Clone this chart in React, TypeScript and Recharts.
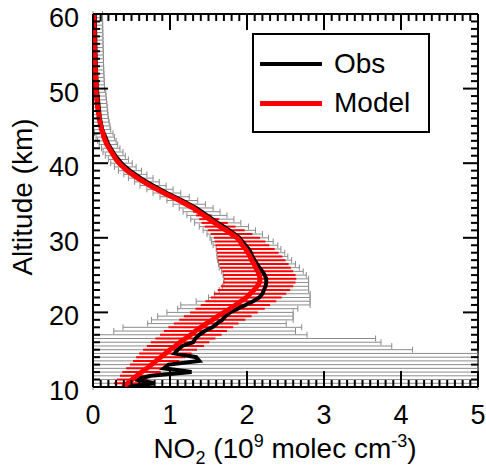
import React from "react"
import { ScatterChart, Scatter, XAxis, YAxis, ErrorBar, ReferenceLine } from "recharts"

// altitude grid (km)
const ALTITUDE = [
  10, 10.5, 11, 11.5, 12, 12.5, 13, 13.5, 14, 14.5,
  15, 15.5, 16, 16.5, 17, 17.5, 18, 18.5, 19, 19.5,
  20, 20.5, 21, 21.5, 22, 22.5, 23, 23.5, 24, 24.5,
  25, 25.5, 26, 26.5, 27, 27.5, 28, 28.5, 29, 29.5,
  30, 30.5, 31, 31.5, 32, 32.5, 33, 33.5, 34, 34.5,
  35, 35.5, 36, 36.5, 37, 37.5, 38, 38.5, 39, 39.5,
  40, 40.5, 41, 41.5, 42, 42.5, 43, 43.5, 44, 44.5,
  45, 45.5, 46, 46.5, 47, 47.5, 48, 48.5, 49, 49.5,
  50, 50.5, 51, 51.5, 52, 52.5, 53, 53.5, 54, 54.5,
  55, 55.5, 56, 56.5, 57, 57.5, 58, 58.5, 59, 59.5,
  60,
]

// NO2 (1e9 molec cm-3)
const OBS = [
  0.45, 0.8, 0.55, 0.75, 1.28, 0.92, 0.98, 1.38, 1.34, 1.06,
  1.1, 1.16, 1.3, 1.33, 1.38, 1.45, 1.55, 1.61, 1.68, 1.72,
  1.78, 1.88, 1.98, 2.08, 2.16, 2.2, 2.22, 2.24, 2.25, 2.25,
  2.23, 2.2, 2.16, 2.13, 2.1, 2.07, 2.05, 2.02, 1.98, 1.94,
  1.9, 1.84, 1.77, 1.7, 1.62, 1.55, 1.48, 1.41, 1.34, 1.25,
  1.16, 1.06, 0.96, 0.87, 0.78, 0.7, 0.62, 0.55, 0.48, 0.42,
  0.37, 0.33, 0.29, 0.26, 0.23, 0.2, 0.18, 0.16, 0.14, 0.12,
  0.11, 0.1, 0.09, 0.085, 0.08, 0.075, 0.07, 0.065, 0.06, 0.055,
  0.05, 0.048, 0.046, 0.044, 0.042, 0.04, 0.038, 0.036, 0.035, 0.034,
  0.033, 0.032, 0.031, 0.03, 0.029, 0.028, 0.027, 0.026, 0.025, 0.024,
  0.024,
]

const OBS_ERR = [
  6, 6, 6, 6, 6, 6, 6, 6, 6, 6,
  3.05, 2.72, 2.44, 2.34, 1.4, 1.18, 1.16, 0.9, 0.92, 0.88,
  0.82, 0.78, 0.84, 0.74, 0.66, 0.62, 0.58, 0.56, 0.55, 0.55,
  0.54, 0.53, 0.52, 0.5, 0.48, 0.46, 0.44, 0.42, 0.42, 0.4,
  0.38, 0.36, 0.34, 0.32, 0.3, 0.28, 0.26, 0.24, 0.22, 0.21,
  0.2, 0.19, 0.18, 0.17, 0.17, 0.16, 0.16, 0.15, 0.15, 0.14,
  0.14, 0.13, 0.13, 0.13, 0.12, 0.12, 0.12, 0.12, 0.12, 0.11,
  0.11, 0.11, 0.11, 0.11, 0.11, 0.11, 0.11, 0.11, 0.11, 0.11,
  0.1, 0.1, 0.1, 0.1, 0.1, 0.1, 0.1, 0.1, 0.1, 0.1,
  0.1, 0.1, 0.1, 0.1, 0.1, 0.1, 0.1, 0.1, 0.1, 0.1,
  0.1,
]

const MODEL = [
  0.39, 0.45, 0.51, 0.57, 0.63, 0.7, 0.76, 0.82, 0.88, 0.94,
  1.0, 1.07, 1.13, 1.2, 1.27, 1.33, 1.4, 1.47, 1.55, 1.62,
  1.7, 1.78, 1.85, 1.92, 1.99, 2.04, 2.09, 2.13, 2.16, 2.17,
  2.16, 2.14, 2.11, 2.09, 2.06, 2.04, 2.01, 1.98, 1.94, 1.91,
  1.87, 1.8, 1.73, 1.65, 1.58, 1.51, 1.44, 1.37, 1.3, 1.21,
  1.12, 1.02, 0.92, 0.83, 0.74, 0.66, 0.58, 0.51, 0.44, 0.39,
  0.34, 0.3, 0.27, 0.24, 0.21, 0.18, 0.16, 0.14, 0.13, 0.11,
  0.1, 0.09, 0.08, 0.075, 0.065, 0.06, 0.055, 0.05, 0.045, 0.042,
  0.04, 0.038, 0.036, 0.034, 0.032, 0.03, 0.028, 0.026, 0.024, 0.022,
  0.02, 0.019, 0.018, 0.017, 0.016, 0.015, 0.014, 0.013, 0.012, 0.011,
  0.01,
]

const MODEL_ERR = [
  0.15, 0.18, 0.2, 0.22, 0.25, 0.27, 0.28, 0.3, 0.32, 0.34,
  0.35, 0.37, 0.38, 0.39, 0.4, 0.41, 0.42, 0.42, 0.43, 0.44,
  0.44, 0.45, 0.45, 0.46, 0.46, 0.47, 0.47, 0.47, 0.47, 0.47,
  0.47, 0.46, 0.46, 0.45, 0.44, 0.42, 0.4, 0.38, 0.35, 0.33,
  0.3, 0.27, 0.24, 0.2, 0.17, 0.13, 0.1, 0.07, 0.05, 0.03,
  0, 0, 0, 0, 0, 0, 0, 0, 0, 0,
  0, 0, 0, 0, 0, 0, 0, 0, 0, 0,
  0, 0, 0, 0, 0, 0, 0, 0, 0, 0,
  0, 0, 0, 0, 0, 0, 0, 0, 0, 0,
  0, 0, 0, 0, 0, 0, 0, 0, 0, 0,
  0,
]

const X_TICKS = [
  0, 0.1, 0.2, 0.3, 0.4, 0.5, 0.6, 0.7, 0.8, 0.9,
  1, 1.1, 1.2, 1.3, 1.4, 1.5, 1.6, 1.7, 1.8, 1.9,
  2, 2.1, 2.2, 2.3, 2.4, 2.5, 2.6, 2.7, 2.8, 2.9,
  3, 3.1, 3.2, 3.3, 3.4, 3.5, 3.6, 3.7, 3.8, 3.9,
  4, 4.1, 4.2, 4.3, 4.4, 4.5, 4.6, 4.7, 4.8, 4.9,
  5,
]
const X_LABELS = [0, 1, 2, 3, 4, 5]

const Y_TICKS = [
  10, 11, 12, 13, 14, 15, 16, 17, 18, 19,
  20, 21, 22, 23, 24, 25, 26, 27, 28, 29,
  30, 31, 32, 33, 34, 35, 36, 37, 38, 39,
  40, 41, 42, 43, 44, 45, 46, 47, 48, 49,
  50, 51, 52, 53, 54, 55, 56, 57, 58, 59,
  60,
]
const Y_LABELS = [10, 20, 30, 40, 50, 60]

const X_MIN = 0
const X_MAX = 5

const W = 486
const H = 470
const MARGIN = { top: 14, right: 8, bottom: 53, left: 33 }
const TOP = MARGIN.top
const RIGHT = W - MARGIN.right
const FONT = "'Liberation Sans', Arial, Helvetica, sans-serif"

// error bars are cut at the frame, like the plot window does in the original
const clampErr = (v: number, e: number) => [Math.min(e, v - X_MIN), Math.min(e, X_MAX - v)]

const obsData = ALTITUDE.map((alt, i) => ({ alt, v: OBS[i], err: clampErr(OBS[i], OBS_ERR[i]) }))
const modelData = ALTITUDE.map((alt, i) => ({ alt, v: MODEL[i], err: clampErr(MODEL[i], MODEL_ERR[i]) }))

const Hidden = () => <g />

function XTick(props: any) {
  const { x, y, payload } = props
  const major = X_LABELS.includes(payload.value)
  const len = major ? 16 : 7
  return (
    <g>
      <line x1={x} y1={y} x2={x} y2={y - len} stroke="#000" strokeWidth={2} />
      <line x1={x} y1={TOP} x2={x} y2={TOP + len} stroke="#000" strokeWidth={2} />
      {major && (
        <text x={x} y={y + 37} textAnchor="middle" fontSize={27} fontFamily={FONT} fill="#000">
          {payload.value}
        </text>
      )}
    </g>
  )
}

function YTick(props: any) {
  const { x, y, payload } = props
  const major = Y_LABELS.includes(payload.value)
  const len = major ? 15 : 7
  return (
    <g>
      <line x1={x} y1={y} x2={x + len} y2={y} stroke="#000" strokeWidth={2} />
      <line x1={RIGHT} y1={y} x2={RIGHT - len} y2={y} stroke="#000" strokeWidth={2} />
      {major && (
        <text x={x - 14} y={y + 13} textAnchor="end" fontSize={27} fontFamily={FONT} fill="#000">
          {payload.value}
        </text>
      )}
    </g>
  )
}

export default function App() {
  return (
    <div style={{ position: "absolute", left: 0, top: 0, width: W, height: H, background: "#fff", fontFamily: FONT }}>
      <ScatterChart width={W} height={H} margin={MARGIN}>
        <XAxis
          type="number"
          dataKey="v"
          domain={[X_MIN, X_MAX]}
          ticks={X_TICKS}
          interval={0}
          tick={XTick}
          tickLine={false}
          tickSize={0}
          tickMargin={0}
          allowDataOverflow
          height={30}
          axisLine={{ stroke: "#000", strokeWidth: 2 }}
        />
        <YAxis
          type="number"
          dataKey="alt"
          domain={[10, 60]}
          ticks={Y_TICKS}
          interval={0}
          tick={YTick}
          tickLine={false}
          tickSize={0}
          tickMargin={0}
          allowDataOverflow
          width={60}
          axisLine={{ stroke: "#000", strokeWidth: 2 }}
        />
        <ReferenceLine y={60} stroke="#000" strokeWidth={2} />
        <ReferenceLine x={X_MAX} stroke="#000" strokeWidth={2} />

        <Scatter data={obsData} shape={Hidden} isAnimationActive={false}>
          <ErrorBar dataKey="err" direction="x" width={3} stroke="#8c8c8c" strokeWidth={1} isAnimationActive={false} />
        </Scatter>
        <Scatter data={modelData} shape={Hidden} isAnimationActive={false}>
          <ErrorBar dataKey="err" direction="x" width={0} stroke="#ff0000" strokeWidth={2} isAnimationActive={false} />
        </Scatter>
        <Scatter
          data={obsData}
          shape={Hidden}
          line={{ stroke: "#000", strokeWidth: 4 }}
          lineType="joint"
          isAnimationActive={false}
        />
        <Scatter
          data={modelData}
          shape={Hidden}
          line={{ stroke: "#ff0000", strokeWidth: 5 }}
          lineType="joint"
          isAnimationActive={false}
        />
      </ScatterChart>

      {/* legend */}
      <div
        style={{
          position: "absolute",
          left: 252,
          top: 33,
          width: 174,
          height: 96,
          border: "2px solid #000",
          background: "#fff",
        }}
      >
        <div style={{ position: "absolute", left: 6, top: 27, width: 62, height: 4, background: "#000" }} />
        <div style={{ position: "absolute", left: 80, top: 12, fontSize: 28, lineHeight: "34px" }}>Obs</div>
        <div style={{ position: "absolute", left: 6, top: 66, width: 62, height: 5, background: "#ff0000" }} />
        <div style={{ position: "absolute", left: 80, top: 51, fontSize: 28, lineHeight: "34px" }}>Model</div>
      </div>

      {/* axis titles */}
      <div
        style={{
          position: "absolute",
          left: 42,
          top: 434,
          width: W,
          textAlign: "center",
          fontSize: 28,
          lineHeight: "30px",
          whiteSpace: "nowrap",
        }}
      >
        NO<span style={{ fontSize: 18, position: "relative", top: 6 }}>2</span> (10
        <span style={{ fontSize: 18, position: "relative", top: -11 }}>9</span> molec cm
        <span style={{ fontSize: 18, position: "relative", top: -11 }}>-3</span>)
      </div>
      <div
        style={{
          position: "absolute",
          left: 23 - 100,
          top: 197 - 15,
          width: 200,
          height: 30,
          lineHeight: "30px",
          textAlign: "center",
          fontSize: 28,
          transform: "rotate(-90deg)",
          whiteSpace: "nowrap",
        }}
      >
        Altitude (km)
      </div>
    </div>
  )
}
